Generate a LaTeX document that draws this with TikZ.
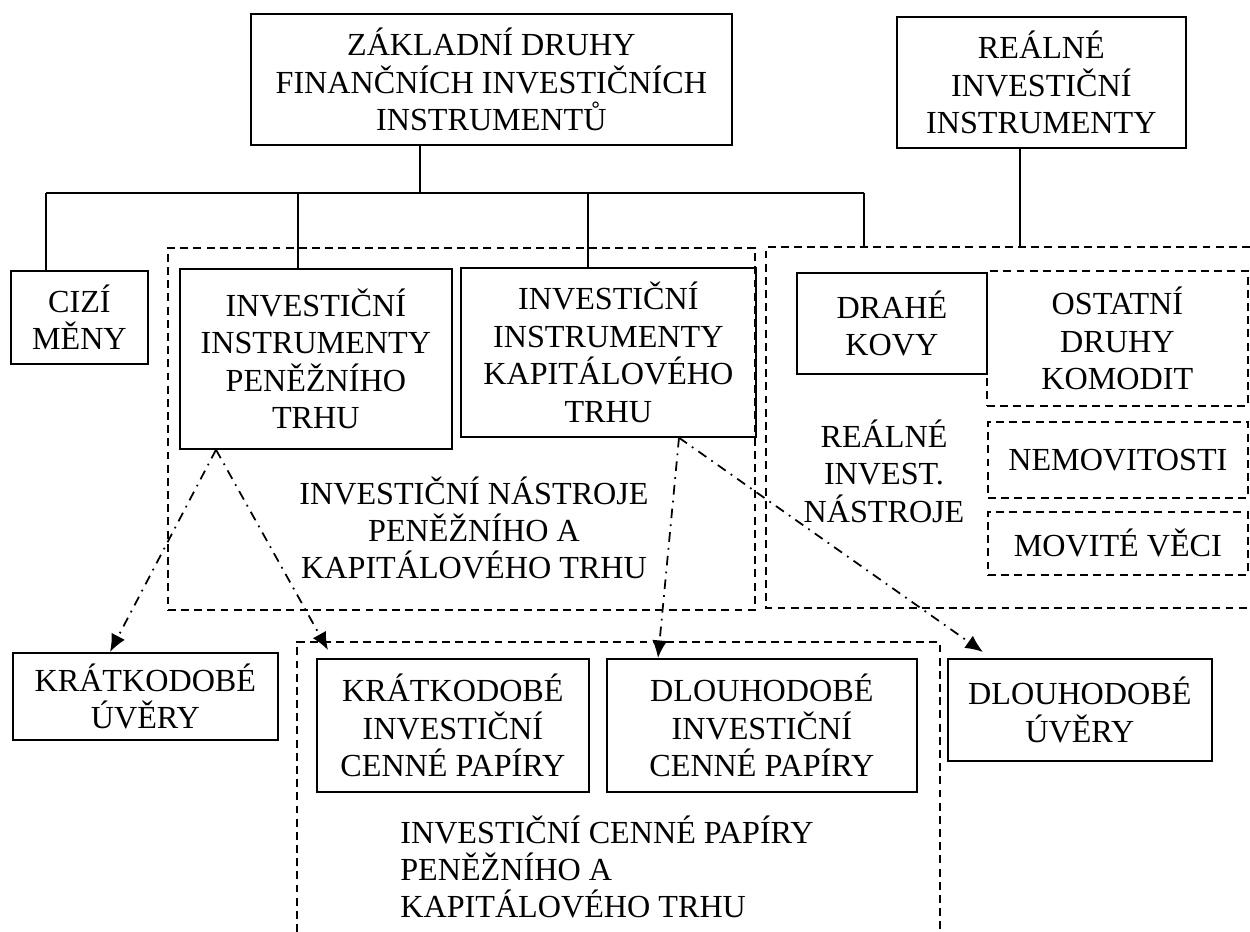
\documentclass[tikz,border=0pt]{standalone}
\usepackage{fontspec}
\setmainfont{Liberation Serif}
\usepackage{tikz}
\usetikzlibrary{positioning}
\usetikzlibrary{arrows.meta}
\usetikzlibrary{calc}
\tikzset{%
	% Specifications for style of nodes:
	base/.style = {rectangle, draw=black, line width=1pt, inner sep=0pt,
		anchor=north west, text centered},
	other/.style = {base, dash pattern=on 4.5pt off 3pt},
	group/.style = {draw=black, line width=1pt, dash pattern=on 4.5pt off 3pt},
	branch/.style = {draw=black, line width=0.8pt},
	refers/.style = {line width=1pt, dash pattern=on 5.5pt off 3.5pt on 1pt off 3.5pt,
		-{Latex[length=10pt, width=8.5pt]}}
}

\begin{document}
\begin{tikzpicture}[x=0.02cm, y=-0.02cm, every node/.style={font=\fontsize{18.3pt}{21.3pt}\selectfont}, align=center]
		\useasboundingbox (0,0) rectangle (1250,932);
		% top of the tree
		\node (basicTypes) [base, minimum width=9.62cm, minimum height=2.62cm] at (250,13) {ZÁKLADNÍ DRUHY\\FINANČNÍCH INVESTIČNÍCH\\INSTRUMENTŮ};
		\node (realInstr) [base, minimum width=5.78cm, minimum height=2.62cm] at (896,16) {REÁLNÉ\\INVESTIČNÍ\\INSTRUMENTY};
		\node (currencies) [base, minimum width=2.74cm, minimum height=1.86cm] at (10,270) {CIZÍ\\MĚNY};
		% financial tools
		\node (finTools) [group, anchor=north west, minimum width=11.74cm, minimum height=7.24cm] at (167,247) {};
		\node (moneyMarket) [base, minimum width=5.44cm, minimum height=3.6cm] at (179,268) {INVESTIČNÍ\\INSTRUMENTY\\PENĚŽNÍHO\\TRHU};
		\node (capitalMarket) [base, minimum width=5.9cm, minimum height=3.38cm] at (460,267) {INVESTIČNÍ\\INSTRUMENTY\\KAPITÁLOVÉHO\\TRHU};
		\node (finToolsText) at (474,528) {INVESTIČNÍ NÁSTROJE\\PENĚŽNÍHO A\\KAPITÁLOVÉHO TRHU};
		% real tools, cut by the page edge
		\coordinate (realTools) at (766,247);
		\draw[group] (1250,247) -- (realTools) |- (1250,608);
		\node (metals) [base, minimum width=3.8cm, minimum height=2.02cm] at (796,272) {DRAHÉ\\KOVY};
		\node (commodities) [other, minimum width=5.22cm, minimum height=2.7cm] at (986,270) {OSTATNÍ\\DRUHY\\KOMODIT};
		\node (realEstate) [other, minimum width=5.2cm, minimum height=1.52cm] at (987,421) {NEMOVITOSTI};
		\node (movables) [other, minimum width=5.2cm, minimum height=1.26cm] at (987,511) {MOVITÉ VĚCI};
		\node (realToolsText) at (884,471) {REÁLNÉ\\INVEST.\\NÁSTROJE};
		% loans and securities
		\node (shortLoans) [base, minimum width=5.3cm, minimum height=1.74cm] at (12,652) {KRÁTKODOBÉ\\ÚVĚRY};
		\coordinate (securities) at (297,642);
		\draw[group] (297,932) -- (securities) -| (940,932);
		\node (shortSecurities) [base, minimum width=5.44cm, minimum height=2.66cm] at (316,658) {KRÁTKODOBÉ\\INVESTIČNÍ\\CENNÉ PAPÍRY};
		\node (longSecurities) [base, minimum width=6.2cm, minimum height=2.66cm] at (606,658) {DLOUHODOBÉ\\INVESTIČNÍ\\CENNÉ PAPÍRY};
		\node (longLoans) [base, minimum width=5.28cm, minimum height=2.04cm] at (947,658) {DLOUHODOBÉ\\ÚVĚRY};
		\node (securitiesText) [align=left, anchor=west, inner sep=0pt] at (400,867) {INVESTIČNÍ CENNÉ PAPÍRY\\PENĚŽNÍHO A\\KAPITÁLOVÉHO TRHU};
		
		\coordinate (fork) at (420,193);
		\coordinate (forkLeft) at (46,193);
		\coordinate (forkMoney) at (298,193);
		\coordinate (forkCapital) at (588,193);
		\coordinate (forkRight) at (864,193);
		\coordinate (realDrop) at (1020,247);
		\draw[branch] (fork |- basicTypes.south) -- (fork);
		\draw[branch] (forkLeft) -- (forkRight);
		\draw[branch] (forkLeft) -- (forkLeft |- currencies.north);
		\draw[branch] (forkMoney) -- (forkMoney |- moneyMarket.north);
		\draw[branch] (forkCapital) -- (forkCapital |- capitalMarket.north);
		\draw[branch] (forkRight) -- (forkRight |- realTools);
		\draw[branch] (realDrop |- realInstr.south) -- (realDrop);
		
		\coordinate (moneyOut) at ($(moneyMarket.south west)+(37,0)$);
		\coordinate (capitalOut) at ($(capitalMarket.south west)+(219,0)$);
		\draw[refers] (moneyOut) -- ($(shortLoans.north west)+(98,0)$);
		\draw[refers] (moneyOut) -- ($(shortSecurities.north west)+(12,-8)$);
		\draw[refers] (capitalOut) -- ($(longSecurities.north west)+(52,0)$);
		\draw[refers] (capitalOut) -- ($(longLoans.north west)+(36,-6)$);
	\end{tikzpicture}
\end{document}
